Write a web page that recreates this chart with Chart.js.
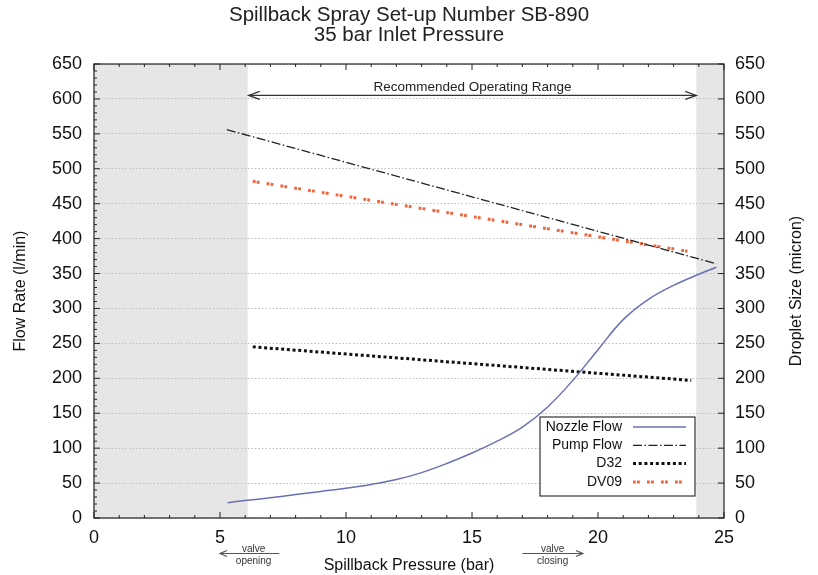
<!DOCTYPE html>
<html><head><meta charset="utf-8">
<script src="https://cdn.jsdelivr.net/npm/chart.js@4.4.1/dist/chart.umd.min.js"></script>
<style>html,body{margin:0;padding:0;background:#fff}</style>
</head><body>
<canvas id="c" width="818" height="575"></canvas>
<script>
// ---- data ----
const titleLines = ['Spillback Spray Set-up Number SB-890', '35 bar Inlet Pressure'];
const xTitle = 'Spillback Pressure (bar)';
const yLeftTitle = 'Flow Rate (l/min)';
const yRightTitle = 'Droplet Size (micron)';
const seriesNames = ['Nozzle Flow', 'Pump Flow', 'D32', 'DV09'];

const nozzleX = [5.3, 6, 7, 8, 9, 10, 11, 12, 13, 14, 15, 16, 17, 18, 19, 20, 21, 22, 23, 24, 24.7];
const nozzleY = [22, 25, 29, 33.5, 38, 42.5, 48, 55, 65, 78, 93, 110, 130, 159, 197, 241, 284, 313, 333, 349, 359];
const pumpX = [5.27, 24.7];
const pumpY = [556, 364];
const d32X = [6.3, 23.7];
const d32Y = [245, 197];
const dv09X = [6.3, 23.55];
const dv09Y = [482, 382];

const xMin = 0, xMax = 25, xStep = 5;
const yMin = 0, yMax = 650, yStep = 50;
const shadedRanges = [[0, 6.1], [23.9, 25]];
const rangeLabel = 'Recommended Operating Range';
const rangeArrow = {from: 6.14, to: 23.9, y: 605, textY: 617};
const valveNotes = [
  {top: 'valve', bottom: 'opening', tail: 7.35, head: 5.0},
  {top: 'valve', bottom: 'closing', tail: 17.0, head: 19.4}
];

// ---- chart ----
const FONT = "'Liberation Sans', Arial, Helvetica, sans-serif";
const pts = (xs, ys) => xs.map((x, i) => ({x, y: ys[i]}));

function arrowHead(ctx, x, y, dir, len, half) {
  ctx.beginPath();
  ctx.moveTo(x - dir * len, y - half);
  ctx.lineTo(x, y);
  ctx.lineTo(x - dir * len, y + half);
  ctx.stroke();
}

const deco = {
  id: 'deco',
  beforeDraw(chart) {
    const {ctx, chartArea: a, scales: {x}} = chart;
    ctx.save();
    ctx.fillStyle = '#fff';
    ctx.fillRect(0, 0, chart.width, chart.height);
    ctx.fillStyle = '#e6e6e6';
    shadedRanges.forEach(([s, e]) => {
      const x0 = x.getPixelForValue(s), x1 = x.getPixelForValue(e);
      ctx.fillRect(x0, a.top, x1 - x0, a.bottom - a.top);
    });
    ctx.restore();
  },
  afterDraw(chart) {
    const {ctx, chartArea: a, scales: {x, y}} = chart;
    ctx.save();
    // frame
    ctx.strokeStyle = '#222';
    ctx.lineWidth = 1.2;
    ctx.setLineDash([]);
    ctx.strokeRect(a.left, a.top, a.right - a.left, a.bottom - a.top);
    // ticks (inward)
    ctx.lineWidth = 1;
    ctx.beginPath();
    for (let v = xMin; v <= xMax; v += 1) {
      const px = x.getPixelForValue(v);
      const len = v % xStep === 0 ? 6 : 3;
      ctx.moveTo(px, a.bottom); ctx.lineTo(px, a.bottom - len);
      ctx.moveTo(px, a.top); ctx.lineTo(px, a.top + len);
    }
    for (let v = yMin; v <= yMax; v += 10) {
      const py = y.getPixelForValue(v);
      const len = v % yStep === 0 ? 6 : 3;
      ctx.moveTo(a.left, py); ctx.lineTo(a.left + len, py);
      if (v % yStep === 0) { ctx.moveTo(a.right, py); ctx.lineTo(a.right - 6, py); }
    }
    ctx.stroke();
    // right axis title (reads bottom-to-top)
    ctx.save();
    ctx.translate(797, (a.top + a.bottom) / 2);
    ctx.rotate(-Math.PI / 2);
    ctx.fillStyle = '#111';
    ctx.font = '16px ' + FONT;
    ctx.textAlign = 'center';
    ctx.textBaseline = 'middle';
    ctx.fillText(yRightTitle, 0, 0);
    ctx.restore();
    // recommended range arrow
    ctx.strokeStyle = '#333';
    ctx.lineWidth = 1.3;
    const ax0 = x.getPixelForValue(rangeArrow.from), ax1 = x.getPixelForValue(rangeArrow.to);
    const ay = y.getPixelForValue(rangeArrow.y);
    ctx.beginPath(); ctx.moveTo(ax0, ay); ctx.lineTo(ax1, ay); ctx.stroke();
    arrowHead(ctx, ax0, ay, -1, 11, 4);
    arrowHead(ctx, ax1, ay, 1, 11, 4);
    ctx.fillStyle = '#222';
    ctx.font = '13.5px ' + FONT;
    ctx.textAlign = 'center';
    ctx.textBaseline = 'middle';
    ctx.fillText(rangeLabel, (ax0 + ax1) / 2, y.getPixelForValue(rangeArrow.textY));
    // valve notes below axis
    ctx.strokeStyle = '#555';
    ctx.fillStyle = '#333';
    ctx.lineWidth = 1.2;
    ctx.font = '10px ' + FONT;
    valveNotes.forEach(n => {
      const t = x.getPixelForValue(n.tail), h = x.getPixelForValue(n.head);
      const vy = a.bottom + 35.5;
      ctx.beginPath(); ctx.moveTo(t, vy); ctx.lineTo(h, vy); ctx.stroke();
      arrowHead(ctx, h, vy, h > t ? 1 : -1, 7, 3);
      const cx = (t + h) / 2 + (t > h ? 4 : 0);
      ctx.fillText(n.top, cx, vy - 4.5);
      ctx.fillText(n.bottom, cx, vy + 7.5);
    });
    // legend
    const bx0 = a.right - 184, bx1 = a.right - 29, by0 = a.bottom - 101, by1 = a.bottom - 22;
    ctx.fillStyle = '#fff';
    ctx.fillRect(bx0, by0, bx1 - bx0, by1 - by0);
    ctx.strokeStyle = '#333';
    ctx.lineWidth = 1.2;
    ctx.strokeRect(bx0, by0, bx1 - bx0, by1 - by0);
    ctx.font = '14px ' + FONT;
    ctx.textAlign = 'right';
    chart.data.datasets.forEach((ds, i) => {
      const ly = by0 + 10 + i * 18.3;
      ctx.fillStyle = '#111';
      ctx.fillText(ds.label, bx0 + 82, ly);
      ctx.save();
      ctx.strokeStyle = ds.borderColor;
      ctx.lineWidth = ds.borderWidth;
      ctx.setLineDash(ds.borderDash || []);
      ctx.beginPath(); ctx.moveTo(bx0 + 93, ly); ctx.lineTo(bx0 + 146, ly); ctx.stroke();
      ctx.restore();
    });
    ctx.restore();
  }
};

const tickFont = {size: 18, family: FONT};
const titleFont = {size: 16, family: FONT};

new Chart(document.getElementById('c'), {
  type: 'line',
  data: {
    datasets: [
      {label: seriesNames[0], data: pts(nozzleX, nozzleY), borderColor: '#6a70b5', borderWidth: 1.5, tension: 0.4, pointRadius: 0, fill: false},
      {label: seriesNames[1], data: pts(pumpX, pumpY), borderColor: '#222', borderWidth: 1.3, borderDash: [9, 2.5, 1.5, 2.5], pointRadius: 0, fill: false},
      {label: seriesNames[2], data: pts(d32X, d32Y), borderColor: '#111', borderWidth: 3, borderDash: [3, 2.7], pointRadius: 0, fill: false},
      {label: seriesNames[3], data: pts(dv09X, dv09Y), borderColor: '#f0643c', borderWidth: 3, borderDash: [2.8, 1.2, 2.8, 7.2], pointRadius: 0, fill: false}
    ]
  },
  options: {
    responsive: false,
    animation: false,
    devicePixelRatio: 1,
    layout: {padding: 0},
    plugins: {
      legend: {display: false},
      tooltip: {enabled: false},
      title: {display: true, text: titleLines, color: '#222', font: {size: 20.5, family: FONT, weight: 'normal', lineHeight: 1.0}, padding: {top: 5, bottom: 18}}
    },
    scales: {
      x: {
        type: 'linear', min: xMin, max: xMax, position: 'bottom',
        ticks: {stepSize: xStep, font: tickFont, color: '#111', padding: 9, maxRotation: 0},
        grid: {drawOnChartArea: false, drawTicks: false},
        border: {display: false},
        title: {display: true, text: xTitle, font: titleFont, color: '#111', padding: {top: 0, bottom: 0}},
        afterFit(s) { s.height = 57; }
      },
      y: {
        type: 'linear', min: yMin, max: yMax, position: 'left',
        ticks: {stepSize: yStep, font: tickFont, color: '#111', padding: 12},
        grid: {color: '#bdbdbd', lineWidth: 1, drawTicks: false},
        border: {display: false, dash: [1.5, 2]},
        title: {display: true, text: yLeftTitle, font: titleFont, color: '#111', padding: {top: 11, bottom: 0}},
        afterFit(s) { s.width = 94; }
      },
      y1: {
        type: 'linear', min: yMin, max: yMax, position: 'right',
        ticks: {stepSize: yStep, font: tickFont, color: '#111', padding: 11},
        grid: {drawOnChartArea: false, drawTicks: false},
        border: {display: false},
        title: {display: false, text: yRightTitle},
        afterFit(s) { s.width = 94; }
      }
    }
  },
  plugins: [deco]
});
</script>
</body></html>
